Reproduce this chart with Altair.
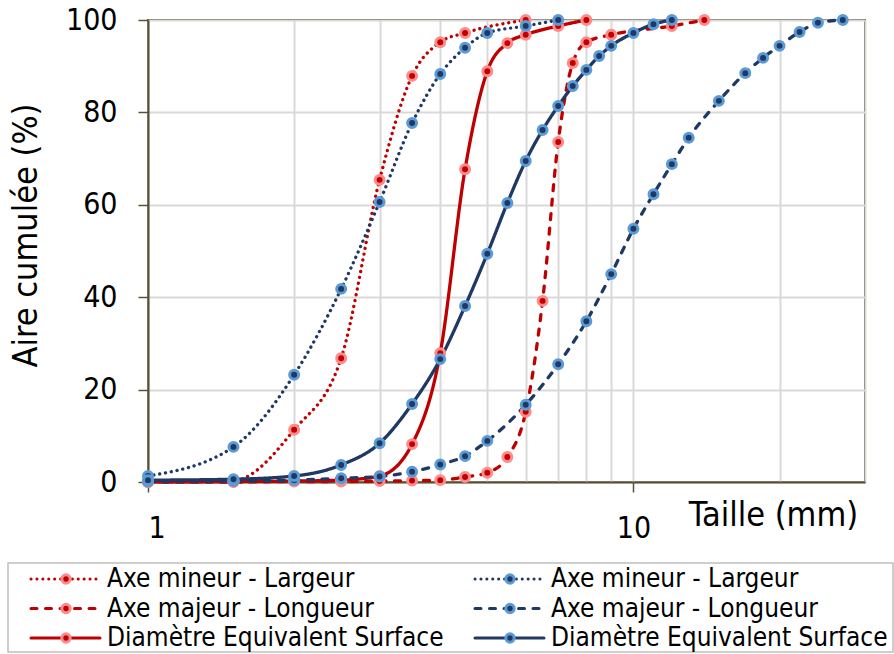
import altair as alt
import pandas as pd

FONT = "DejaVu Sans Condensed, DejaVu Sans, sans-serif"

# Taille (mm) et aire cumulée (%) de chaque courbe granulométrique
rouge_mineur_taille = [1, 1.5, 2, 2.5, 3, 3.5, 4, 4.5, 6]
rouge_mineur_aire = [0, 0.3, 11.3, 26.8, 65.4, 87.9, 95.2, 97.2, 100]

rouge_majeur_taille = [1, 1.5, 2, 2.5, 3, 3.5, 4, 4.5, 5, 5.5, 6, 6.5, 7, 7.5, 8, 9, 12, 14]
rouge_majeur_aire = [0, 0, 0.1, 0.1, 0.2, 0.3, 0.4, 1.1, 2.0, 5.4, 15.2, 39.2, 73.6, 90.7, 95.2, 96.8, 98.7, 100]

rouge_diam_taille = [1, 1.5, 2, 2.5, 3, 3.5, 4, 4.5, 5, 5.5, 6, 7, 8]
rouge_diam_aire = [0, 0.1, 0.2, 0.4, 1.3, 8.2, 27.9, 67.7, 88.9, 95.0, 96.8, 98.7, 100]

bleu_mineur_taille = [1, 1.5, 2, 2.5, 3, 3.5, 4, 4.5, 5, 6, 7]
bleu_mineur_aire = [1.3, 7.6, 23.2, 41.8, 60.6, 77.7, 88.3, 94.0, 97.2, 98.7, 100]

bleu_majeur_taille = [1, 1.5, 2, 2.5, 3, 3.5, 4, 4.5, 5, 6, 7, 8, 9, 10, 11, 12, 13, 15, 17, 18.5, 20, 22, 24, 27]
bleu_majeur_aire = [0.1, 0.2, 0.4, 0.8, 1.2, 2.2, 3.8, 5.6, 8.9, 16.7, 25.5, 34.8, 45.0, 54.8, 62.3, 68.8,
                    74.5, 82.5, 88.5, 91.8, 94.4, 97.4, 99.4, 100]

bleu_diam_taille = [1, 1.5, 2, 2.5, 3, 3.5, 4, 4.5, 5, 5.5, 6, 6.5, 7, 7.5, 8, 8.5, 9, 10, 11, 12]
bleu_diam_aire = [0.4, 0.6, 1.3, 3.7, 8.4, 16.9, 26.6, 38.1, 49.4, 60.4, 69.5, 76.2, 81.4, 85.7, 89.2,
                  92.2, 94.4, 97.2, 99.1, 100]

libelles = ["Axe mineur - Largeur", "Axe majeur - Longueur", "Diamètre Equivalent Surface"]
x_grille = [1, 2, 3, 4, 5, 6, 7, 8, 9, 10, 20, 30]
y_graduations = [0, 20, 40, 60, 80, 100]

series = [
    ("r_mineur", rouge_mineur_taille, rouge_mineur_aire),
    ("r_majeur", rouge_majeur_taille, rouge_majeur_aire),
    ("r_diam", rouge_diam_taille, rouge_diam_aire),
    ("b_mineur", bleu_mineur_taille, bleu_mineur_aire),
    ("b_majeur", bleu_majeur_taille, bleu_majeur_aire),
    ("b_diam", bleu_diam_taille, bleu_diam_aire),
]
cles = [s[0] for s in series]

df = pd.DataFrame(
    [{"serie": k, "taille": t, "aire": a} for k, ts, as_ in series for t, a in zip(ts, as_)]
)

leg = pd.DataFrame(
    [
        {"serie": f"{g}_{kind}", "libelle": libelles[r], "col": c, "row": r}
        for c, g in enumerate(["r", "b"])
        for r, kind in enumerate(["mineur", "majeur", "diam"])
    ]
)

ROUGE, BLEU = "#C00000", "#1F3864"
ANNEAU_R, ANNEAU_B = "#FF8A8A", "#5B9BD5"
OLIVE = "#595035"

couleur = alt.Color("serie:N", scale=alt.Scale(domain=cles, range=[ROUGE] * 3 + [BLEU] * 3), legend=None)
anneau = alt.Stroke("serie:N", scale=alt.Scale(domain=cles, range=[ANNEAU_R] * 3 + [ANNEAU_B] * 3), legend=None)
tirets = alt.StrokeDash(
    "serie:N",
    scale=alt.Scale(domain=cles, range=[[0.1, 5.8], [6, 8.5], [1, 0]] * 2),
    legend=None,
)

x_enc = alt.X(
    "taille:Q",
    scale=alt.Scale(type="log", domain=[1, 30], nice=False),
    axis=alt.Axis(
        values=x_grille,
        labelExpr="(datum.value == 1 || datum.value == 10) ? format(datum.value, 'd') : ''",
        tickOpacity={"condition": {"test": "datum.value == 1 || datum.value == 10", "value": 1}, "value": 0},
        tickSize=10,
        tickColor=OLIVE,
        tickWidth=1.5,
        labelFontSize=30,
        labelPadding=21,
        labelFont=FONT,
        labelColor="black",
        grid=True,
        gridColor="#D9D9D9",
        gridWidth=2,
        domainColor=OLIVE,
        domainWidth=2,
        title="Taille (mm)",
        titleFont=FONT,
        titleFontSize=34,
        titleFontWeight="normal",
        titleColor="black",
        titleX=625,
        titleY=33,
        titleAlign="center",
        titleBaseline="middle",
    ),
)
y_enc = alt.Y(
    "aire:Q",
    scale=alt.Scale(domain=[0, 100], nice=False),
    axis=alt.Axis(
        values=y_graduations,
        tickSize=10,
        tickColor=OLIVE,
        tickWidth=1.5,
        labelFontSize=30,
        labelPadding=21,
        labelFont=FONT,
        labelColor="black",
        grid=True,
        gridColor="#D9D9D9",
        gridWidth=2,
        domainColor=OLIVE,
        domainWidth=2,
        title="Aire cumulée (%)",
        titleFont=FONT,
        titleFontSize=34,
        titleFontWeight="normal",
        titleColor="black",
        titleAngle=-90,
        titleX=-122,
        titleY=215,
        titleAlign="center",
        titleBaseline="middle",
    ),
)

base = alt.Chart(df)
courbes = base.mark_line(interpolate="monotone", strokeWidth=3.3, strokeCap="round").encode(
    x=x_enc, y=y_enc, color=couleur, strokeDash=tirets
)
points = base.mark_circle(size=80, opacity=1, strokeWidth=3).encode(
    x="taille:Q", y="aire:Q", color=couleur, stroke=anneau
)
graphique = alt.layer(courbes, points)

# Légende dessinée sous le graphique, sur deux colonnes
lx = alt.X("col:O", scale=alt.Scale(type="point", domain=[0, 1], range=[-117, 327], padding=0), axis=None)
ly = alt.Y("row:O", scale=alt.Scale(type="point", domain=[0, 1, 2], range=[559, 618], padding=0), axis=None)
lbase = alt.Chart(leg)
leg_traits = lbase.mark_rule(strokeWidth=3, strokeCap="round", x2Offset=69).encode(
    x=lx, x2=alt.X2("col:O"), y=ly, color=couleur, strokeDash=tirets
)
leg_points = lbase.mark_circle(size=70, opacity=1, strokeWidth=3, xOffset=35).encode(
    x=lx, y=ly, color=couleur, stroke=anneau
)
leg_textes = lbase.mark_text(align="left", baseline="middle", dx=76, fontSize=26, font=FONT, color="black").encode(
    x=lx, y=ly, text="libelle:N"
)
cadre = alt.Chart(pd.DataFrame({"c": [0]})).mark_rect(fillOpacity=0, stroke="#BFBFBF", strokeWidth=1.5).encode(
    x=alt.value(-140), x2=alt.value(745), y=alt.value(543), y2=alt.value(632)
)
legende = alt.layer(cadre, leg_traits, leg_points, leg_textes)

chart = (
    alt.layer(graphique, legende)
    .resolve_scale(x="independent", y="independent")
    .properties(
        width=717,
        height=462,
        autosize=alt.AutoSizeParams(type="none"),
        padding={"left": 148, "top": 20, "right": 29, "bottom": 172},
        background="white",
    )
    .configure_view(stroke=OLIVE, strokeWidth=2)
)

chart.save("out.html", embed_options={"renderer": "svg", "actions": False})
